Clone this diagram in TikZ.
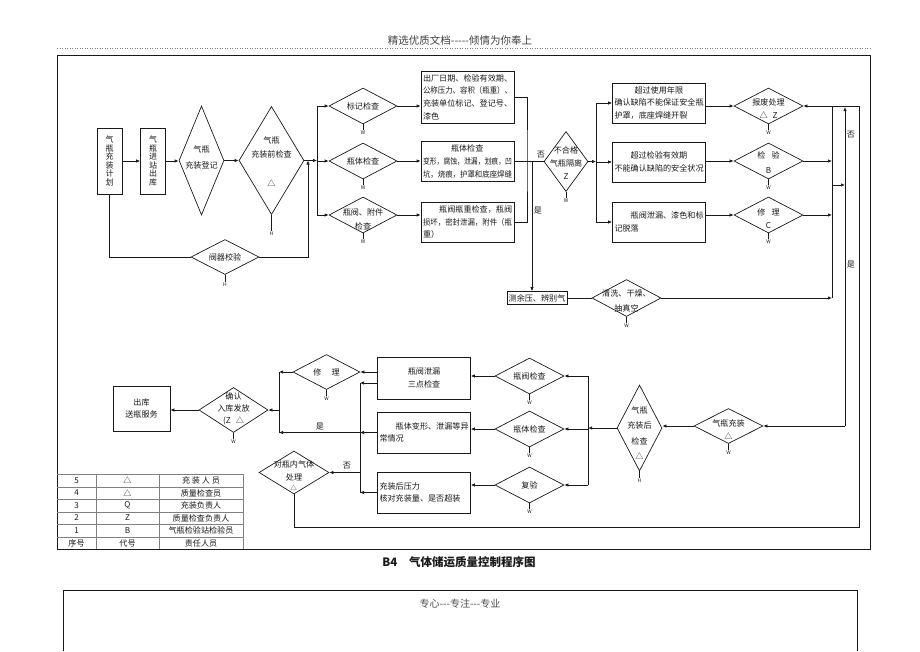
\documentclass[tikz,border=0pt]{standalone}
\usepackage{fontspec}
\setmainfont{Noto Sans CJK SC}[Ligatures=TeXOff]
\usetikzlibrary{positioning, arrows.meta, shapes.geometric}

\newcommand{\sqz}[1]{\resizebox{89pt}{\height}{#1}}

\begin{document}
\begin{tikzpicture}[x=1pt, y=-1pt,
	procbox/.style={rectangle, draw, inner xsep=2pt, inner ysep=0pt, text width=89pt, align=left, font=\fontsize{8.1}{12.6}\selectfont},
	vertbox/.style={rectangle, draw, inner sep=0pt, minimum width=25pt, minimum height=66pt, align=center, font=\fontsize{8}{8.6}\selectfont},
	decision/.style={diamond, draw, inner sep=0pt, aspect=2},
	textb/.style={inner sep=0pt, align=center},
	wtag/.style={inner sep=0.5pt, font=\fontsize{5}{5}\selectfont},
	mylabel/.style={inner sep=0pt},
	>={Latex[length=4pt, width=3.4pt]},
	color=black!90, line width=0.7pt,
	font=\fontsize{8.1}{13}\selectfont
]
\useasboundingbox (0,0) rectangle (920,651);

\node[font=\fontsize{10.5}{12}\selectfont, text=black!75] (head) at (460,40) {精选优质文档-----倾情为你奉上};
\draw[gray, dotted, line width=0.5pt] (57,48) -- (870,48);
\draw (57,55) rectangle (870,549);

% upper flow
\node[vertbox] (plan) at (109.5,161) {气\\瓶\\充\\装\\计\\划};
\node[vertbox] (inout) at (153,161) {气\\瓶\\进\\站\\出\\库};
\node[decision, minimum width=45pt, minimum height=109pt] (reg) at (201.5,160.5) {};
\node[textb, font=\fontsize{8.1}{16}\selectfont] (reg-t) at (201.5,157) {气瓶\\充装登记};
\node[decision, minimum width=65pt, minimum height=108pt] (pre) at (271.5,160.5) {};
\node[textb, font=\fontsize{8.1}{14}\selectfont] (pre-t) at (271.5,147) {气瓶\\充装前检查};
\node[textb] (pre-s) at (271.5,183) {△};
\node[decision, minimum width=68pt, minimum height=35pt] (vc) at (225,257) {阀器校验};

\node[decision, minimum width=68pt, minimum height=36pt] (mk) at (363,106) {标记检查};
\node[decision, minimum width=68pt, minimum height=36pt] (bd) at (363,161) {瓶体检查};
\node[decision, minimum width=68pt, minimum height=36pt] (vl) at (363,215) {};
\node[textb, font=\fontsize{8.1}{14}\selectfont] (vl-t) at (363,219) {瓶阀、附件\\检查};

\node[procbox, minimum height=52pt] (mkbox) at (467.5,97) {出厂日期、检验有效期、\\\sqz{公称压力、容积（瓶重）、}\\充装单位标记、登记号、\\漆色};
\node[procbox, minimum height=40pt] (bdbox) at (467.5,161.5) {\hspace*{28pt}瓶体检查\\\sqz{变形，腐蚀，泄漏，划痕，凹}\\\sqz{坑，烧痕，护罩和底座焊缝}};
\node[procbox, minimum height=40pt] (vlbox) at (467.5,222) {\hspace*{2em}瓶阀瓶重检查，瓶阀\\\sqz{损坏，密封泄漏，附件（瓶}\\重）};

\node[decision, minimum width=44pt, minimum height=60pt] (iso) at (566,161.5) {};
\node[textb] (iso-t) at (566,163) {不合格\\气瓶隔离\\Z};

\node[procbox, minimum height=40pt] (boxA) at (659,103) {\hspace*{20pt}超过使用年限\\确认缺陷不能保证安全瓶\\护罩，底座焊缝开裂};
\node[procbox, minimum height=40pt] (boxB) at (659,162) {\hspace*{16pt}超过检验有效期\\不能确认缺陷的安全状况};
\node[procbox, minimum height=40pt] (boxC) at (659,222) {\hspace*{2em}瓶阀泄漏、漆色和标\\记脱落};

\node[decision, minimum width=69pt, minimum height=36pt] (scrap) at (768.5,106) {};
\node[textb] (scrap-t) at (768.5,109) {报废处理\\△\hspace{5pt}Z};
\node[decision, minimum width=69pt, minimum height=36pt] (insp) at (768.5,161) {};
\node[textb, font=\fontsize{8.1}{15}\selectfont] (insp-t) at (768.5,163) {检\hspace{6pt}验\\B};
\node[decision, minimum width=69pt, minimum height=36pt] (rep) at (768.5,215) {};
\node[textb] (rep-t) at (768.5,219) {修\hspace{6pt}理\\C};

\node[rectangle, draw, inner sep=1pt, minimum width=60pt, minimum height=13pt] (test) at (537,298) {测余压、辨别气};
\node[decision, minimum width=69pt, minimum height=37pt] (clean) at (626.5,298) {};
\node[textb, font=\fontsize{8.1}{15}\selectfont] (clean-t) at (626.5,301) {清洗、干燥、\\抽真空};

% lower flow
\node[decision, minimum width=69pt, minimum height=35pt] (fill) at (728.5,426) {};
\node[textb] (fill-t) at (728.5,429.5) {气瓶充装\\△};
\node[decision, minimum width=45pt, minimum height=86pt] (post) at (639.5,428) {};
\node[textb, font=\fontsize{8.1}{15.5}\selectfont] (post-t) at (639.5,433) {气瓶\\充装后\\检查\\△};

\node[decision, minimum width=69pt, minimum height=36pt] (vchk) at (529.5,376) {瓶阀检查};
\node[decision, minimum width=69pt, minimum height=36pt] (bchk) at (529.5,429) {瓶体检查};
\node[decision, minimum width=69pt, minimum height=36pt] (rechk) at (529.5,485) {复验};

\node[procbox, align=center, minimum height=42pt] (vbox) at (424,378) {瓶阀泄漏\\三点检查};
\node[procbox, minimum height=41pt] (bdybox) at (424,432.5) {\hspace*{2em}瓶体变形、泄漏等异\\常情况};
\node[procbox, minimum height=41pt] (pbox) at (424,492.5) {充装后压力\\核对充装量、是否超装};

\node[decision, minimum width=67pt, minimum height=35pt] (rep2) at (326.5,372) {修\hspace{10pt}理};
\node[decision, minimum width=69pt, minimum height=45pt] (conf) at (233.5,410) {};
\node[textb, font=\fontsize{8.1}{12}\selectfont] (conf-t) at (233.5,409) {确认\\入库发放\\(Z\hspace{5pt}△};
\node[rectangle, draw, inner sep=0pt, minimum width=57pt, minimum height=45pt, align=center, font=\fontsize{8.1}{11.5}\selectfont] (out) at (141.5,408.5) {出库\\送瓶服务};
\node[decision, minimum width=70pt, minimum height=43pt] (treat) at (294,472.5) {};
\node[textb] (treat-t) at (294,470.5) {对瓶内气体\\处理};
\node[textb, font=\fontsize{6.5}{7}\selectfont] (treat-s) at (293.5,488) {△};

% person marks under the decisions
\foreach \i/\j/\k in {pre/H/16, vc/H/7, mk/W/6, bd/W/6, vl/W/6, iso/W/6, scrap/W/6, insp/W/6, rep/W/6, clean/W/6, fill/W/6, post/H/7, conf/W/6, rep2/W/6, vchk/W/6, bchk/W/6, rechk/W/6}
	\draw[line width=0.5pt] (\i.south) -- ++(0,\k) node[wtag, below] (\i-w) {\j};

% junctions
\coordinate (b1) at (317,160.5);
\coordinate (j1) at (308,160.5);
\coordinate (c1) at (527,161.5);
\coordinate (c2) at (532,161.5);
\coordinate (b2) at (596,161.5);
\coordinate (col-top) at (832,106);
\coordinate (col-mid) at (832,185);
\coordinate (col-bot) at (832,298);
\coordinate (up-top) at (845,107);
\coordinate (up-mid) at (845,185);
\coordinate (up-bot) at (845,426);
\coordinate (loop) at (859,527);
\coordinate (b3) at (588,428);
\coordinate (b4a) at (360,383);
\coordinate (b4b) at (360,432.5);
\coordinate (b4c) at (360,472.5);
\coordinate (b4d) at (360,492.5);
\coordinate (lv-top) at (279,372);
\coordinate (lv-mid) at (279,410);
\coordinate (lv-bot) at (279,432.5);

\foreach \i/\j in {plan/inout, inout/reg, reg/pre, mk/mkbox, bd/bdbox, vl/vlbox}
	\draw[->] (\i.east) -- (\i.east -| \j.west);

\foreach \i/\j in {boxA/scrap, boxB/insp, boxC/rep}
	\draw[->] (\j.west -| \i.east) -- (\j.west);

\foreach \i/\j in {fill/post, vchk/vbox, bchk/bdybox, rechk/pbox, conf/out}
	\draw[->] (\i.west) -- (\i.west -| \j.east);

\draw[->] (pre.east) -- (b1);
\foreach \i in {mk, bd, vl}
	\draw[->] (b1) |- (\i.west);
\draw (plan.south) |- (vc.west);
\draw[->] (vc.east) -| (j1);

\draw (mkbox.east) -| (c1) |- (vlbox.east);
\draw (bdbox.east) -- (iso.west);
\node[mylabel] (no1) at (541,155) {否};
\draw[->] (c2) -- (c2 |- test.north);
\node[mylabel] (yes1) at (538,211) {是};
\draw[->] (iso.east) -- (b2);
\foreach \i in {boxA, boxB, boxC}
	\draw[->] (b2) |- (\i.west);

\draw (test.east) -- (clean.west);
\draw[->] (clean.east) -- (clean.east -| col-bot);
\foreach \i in {insp, rep}
	\draw[->] (\i.east) -- (\i.east -| col-top);
\draw (col-top) -- (col-bot);
\draw[->] (col-mid) -- (up-mid);
\draw[->] (up-bot) -- (up-top);
\draw[->] (up-bot) -- (fill.east);
\draw[->] (treat.south) |- (loop) |- (scrap.east);
\node[mylabel] (no2) at (851,135) {否};
\node[mylabel] (yes2) at (851,265) {是};

\draw[->] (post.west) -- (b3);
\draw (b3 |- vchk) -- (b3 |- rechk);
\foreach \i in {vchk, bchk, rechk}
	\draw[->] (b3 |- \i) -- (\i.east);

\draw[->] (rep2.east -| vbox.west) -- (rep2.east);
\draw (b4a) -- (b4d);
\draw[->] (b4a -| vbox.west) -- (b4a);
\draw[->] (bdybox.west) -- (b4b);
\draw[->] (pbox.west) -- (b4d);
\draw[->] (b4b) -- (lv-bot);
\node[mylabel] (yes3) at (320,427) {是};
\draw[->] (b4c) -- (treat.east);
\node[mylabel] (no3) at (347,466) {否};
\draw (lv-top) -- (lv-bot);
\draw[->] (rep2.west) -- (lv-top);
\draw[->] (lv-mid) -- (conf.east);

% responsibility table
\draw[gray] (57,474) -- (243,474) -- (243,549);
\foreach \y in {487,499,512,524,537}
	\draw[gray] (57,\y) -- (243,\y);
\foreach \x in {96,159}
	\draw[gray] (\x,474) -- (\x,549);
\foreach \y/\i/\j/\k [count=\r] in {480.5/5/△/充\ 装\ 人\ 员, 493/4/△/质量检查员, 505.5/3/Q/充装负责人, 518/2/Z/质量检查负责人, 530.5/1/B/气瓶检验站检验员, 543/序号/代号/责任人员}{
	\node[mylabel] (row\r-no) at (76.5,\y) {\i};
	\node[mylabel] (row\r-code) at (127.5,\y) {\j};
	\node[mylabel] (row\r-who) at (201,\y) {\k};
}

\node[font=\fontsize{11.5}{13}\selectfont\bfseries] (cap) at (459,562) {B4\hspace{12pt}气体储运质量控制程序图};

\draw (63,651) |- (857,590) -- (857,651);
\node[font=\fontsize{10}{12}\selectfont, text=black!70] (foot) at (460,604) {专心---专注---专业};

\end{tikzpicture}
\end{document}
